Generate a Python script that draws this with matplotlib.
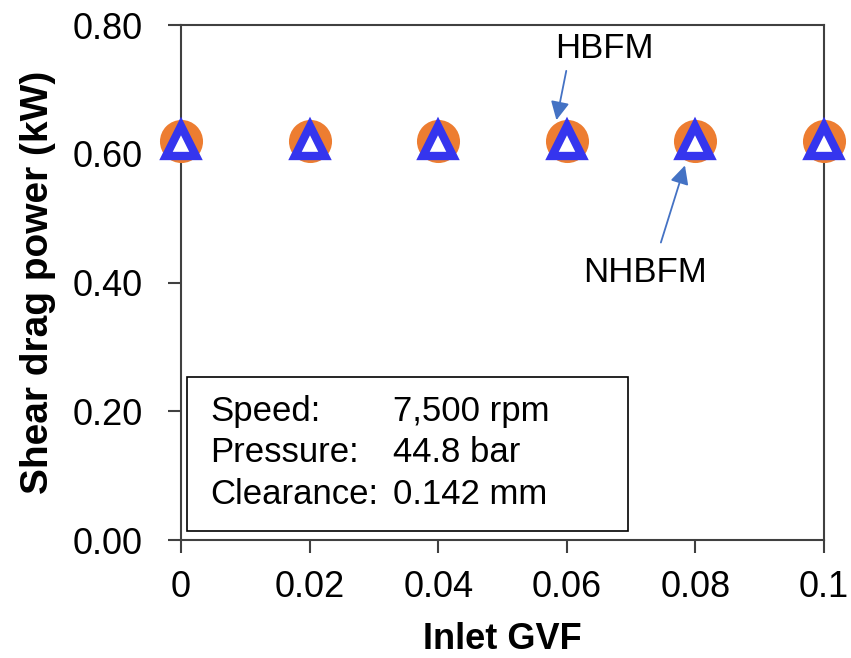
import numpy as np
import matplotlib.pyplot as plt
from matplotlib.patches import Rectangle

plt.rcParams['font.family'] = ['Liberation Sans', 'DejaVu Sans']

# data
gvf = [0, 0.02, 0.04, 0.06, 0.08, 0.1]
hbfm = [0.62, 0.62, 0.62, 0.62, 0.62, 0.62]
nhbfm = [0.62, 0.62, 0.62, 0.62, 0.62, 0.62]
x_ticks = [0, 0.02, 0.04, 0.06, 0.08, 0.1]
x_tick_labels = ['0', '0.02', '0.04', '0.06', '0.08', '0.1']
y_ticks = [0.0, 0.2, 0.4, 0.6, 0.8]
y_tick_labels = ['0.00', '0.20', '0.40', '0.60', '0.80']
info_keys = ['Speed:', 'Pressure:', 'Clearance:']
info_vals = ['7,500 rpm', '44.8 bar', '0.142 mm']

fig = plt.figure(figsize=(8.51, 6.58), dpi=100)
ax = fig.add_axes([0.2127, 0.1793, 0.7556, 0.7827])

ax.plot(gvf, hbfm, 'o', color='#ED7D31', markersize=31, markeredgewidth=0,
        clip_on=False, zorder=3)
ax.plot(gvf, nhbfm, '^', color='white', markeredgecolor='#3535EE',
        markersize=22, markeredgewidth=6, clip_on=False, zorder=4)

ax.set_xlim(0, 0.1)
ax.set_ylim(0, 0.8)
ax.set_xticks(x_ticks)
ax.set_xticklabels(x_tick_labels)
ax.set_yticks(y_ticks)
ax.set_yticklabels(y_tick_labels)

for s in ax.spines.values():
    s.set_linewidth(1.5)
    s.set_color('#404040')
ax.tick_params(axis='both', direction='out', length=9.5, width=1.5,
               color='#404040', labelsize=26, labelcolor='black')
ax.tick_params(axis='y', pad=18)
ax.tick_params(axis='x', pad=12)

ax.set_xlabel('Inlet GVF', fontsize=26, fontweight='bold', labelpad=12)
ax.set_ylabel('Shear drag power (kW)', fontsize=28, fontweight='bold', labelpad=12)

# info box
ax.add_patch(Rectangle((0.0093, 0.0175), 0.686, 0.30, transform=ax.transAxes,
                       fill=False, edgecolor='black', linewidth=1.2, zorder=5))
row_y = [0.250, 0.169, 0.089]
for k, v, yy in zip(info_keys, info_vals, row_y):
    ax.text(0.045, yy, k, transform=ax.transAxes, fontsize=25, va='center', ha='left')
    ax.text(0.33, yy, v, transform=ax.transAxes, fontsize=25, va='center', ha='left')

# annotations
arrow = dict(arrowstyle='-|>', color='#4472C4', lw=1.3, mutation_scale=28)
ax.text(0.0658, 0.764, 'HBFM', fontsize=25, ha='center', va='center')
ax.annotate('', xy=(0.0583, 0.648), xytext=(0.0600, 0.733), arrowprops=arrow)
ax.text(0.0722, 0.415, 'NHBFM', fontsize=25, ha='center', va='center')
ax.annotate('', xy=(0.0785, 0.586), xytext=(0.0745, 0.458), arrowprops=arrow)

plt.savefig('out.png', dpi=100)
